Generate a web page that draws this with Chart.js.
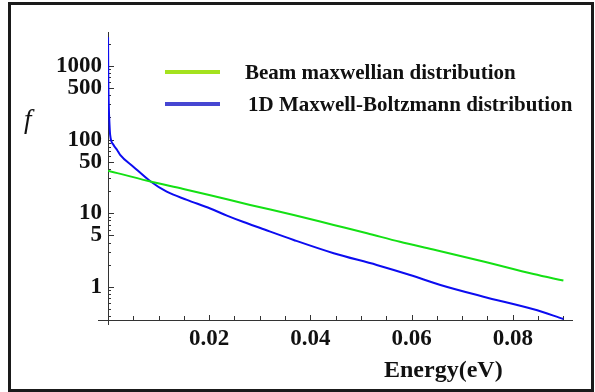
<!DOCTYPE html>
<html>
<head>
<meta charset="utf-8">
<script src="https://cdn.jsdelivr.net/npm/chart.js@4.4.1/dist/chart.umd.min.js"></script>
<style>
  html, body { margin: 0; padding: 0; background: #fff; }
  #wrap { position: relative; width: 595px; height: 392px; }
  #wrap canvas { position: absolute; left: 0; top: 0; }
  #frame {
    position: absolute; left: 8px; top: 2px; width: 580px; height: 384px;
    border: 3px solid #1a1a1a; pointer-events: none;
  }
</style>
</head>
<body>
<div id="wrap">
  <canvas id="distChart" width="595" height="392"></canvas>
  <div id="frame"></div>
</div>
<script>
// Energy (eV) and distribution values
const energyBeam = [0, 0.0080, 0.0149, 0.0200, 0.0281, 0.0367, 0.0446, 0.0512, 0.0577, 0.0643, 0.0742, 0.0841, 0.0900];
const fBeam = [37.9, 27.4, 21.4, 17.7, 12.97, 9.48, 6.94, 5.35, 4.1, 3.22, 2.22, 1.5, 1.22];

const energyMB = [0.00001, 0.00005, 0.00015, 0.0003, 0.00043, 0.0011, 0.0018, 0.0024, 0.0050, 0.0083, 0.0116, 0.0156, 0.0202, 0.0235, 0.0268, 0.0301, 0.0367, 0.0446, 0.0531, 0.0597, 0.0657, 0.0742, 0.0841, 0.0900];
const fMB = [2440, 800, 300, 158, 115, 84.5, 72.3, 61.8, 42.9, 27.4, 19.6, 15.2, 11.6, 9.3, 7.6, 6.3, 4.34, 2.87, 1.99, 1.455, 1.064, 0.738, 0.498, 0.368];

const yTickValues = [1, 5, 10, 50, 100, 500, 1000];
const xTickValues = [0.02, 0.04, 0.06, 0.08];

const legendItems = [
    { label: 'Beam maxwellian distribution', color: '#a4e21e' },
    { label: '1D Maxwell-Boltzmann distribution', color: '#4646d2' }
];

const toPoints = (xs, ys) => xs.map((x, i) => ({ x: x, y: ys[i] }));

// axes drawn by hand under the curves: ticks point inward,
// x axis runs a little past the origin
const axesPlugin = {
    id: 'axesPlugin',
    beforeDatasetsDraw(chart) {
        const ctx = chart.ctx;
        const area = chart.chartArea;
        const xs = chart.scales.x;
        const ys = chart.scales.y;
        const x0 = xs.getPixelForValue(0);

        ctx.save();
        ctx.strokeStyle = '#333';
        ctx.lineWidth = 1;
        ctx.beginPath();
        ctx.moveTo(x0 + 0.5, area.top);
        ctx.lineTo(x0 + 0.5, area.bottom + 5);
        ctx.moveTo(x0 - 10, area.bottom + 0.5);
        ctx.lineTo(area.right, area.bottom + 0.5);

        // y ticks: labelled ones long, the rest short
        for (let d = 0.1; d <= 1000; d *= 10) {
            for (let m = 1; m <= 9; m++) {
                const v = m * d;
                if (v < ys.min || v > ys.max) continue;
                const py = Math.round(ys.getPixelForValue(v)) + 0.5;
                const len = yTickValues.some(t => Math.abs(t - v) < 1e-9) ? 6 : 3;
                ctx.moveTo(x0, py);
                ctx.lineTo(x0 + len, py);
            }
        }

        // x ticks every 0.005
        for (let i = 1; i * 0.005 <= xs.max; i++) {
            const px = Math.round(xs.getPixelForValue(i * 0.005)) + 0.5;
            const len = i % 4 === 0 ? 5 : 4;
            ctx.moveTo(px, area.bottom);
            ctx.lineTo(px, area.bottom - len);
        }
        ctx.stroke();
        ctx.restore();
    },
    afterDraw(chart) {
        const ctx = chart.ctx;
        ctx.save();
        ctx.fillStyle = '#111';
        ctx.textBaseline = 'alphabetic';
        ctx.textAlign = 'left';
        ctx.font = 'bold 24px "Liberation Serif"';
        ctx.fillText('Energy(eV)', 384, 377);
        ctx.font = 'italic 27px "Liberation Serif"';
        ctx.fillText('f', 24, 128);

        // legend
        ctx.font = 'bold 21px "Liberation Serif"';
        const rows = [{ y: 72, tx: 245 }, { y: 104, tx: 248 }];
        legendItems.forEach((item, i) => {
            ctx.strokeStyle = item.color;
            ctx.lineWidth = 4;
            ctx.beginPath();
            ctx.moveTo(165, rows[i].y);
            ctx.lineTo(220, rows[i].y);
            ctx.stroke();
            ctx.fillText(item.label, rows[i].tx, rows[i].y + 7);
        });
        ctx.restore();
    }
};

new Chart(document.getElementById('distChart'), {
    type: 'line',
    data: {
        datasets: [
            {
                label: legendItems[0].label,
                data: toPoints(energyBeam, fBeam),
                borderColor: '#14e014',
                borderWidth: 2,
                pointRadius: 0,
                cubicInterpolationMode: 'monotone'
            },
            {
                label: legendItems[1].label,
                data: toPoints(energyMB, fMB),
                borderColor: '#0c0cf0',
                borderWidth: 2,
                pointRadius: 0,
                cubicInterpolationMode: 'monotone'
            }
        ]
    },
    options: {
        responsive: false,
        animation: false,
        devicePixelRatio: 1,
        layout: { padding: { left: 0, right: 22, top: 32, bottom: 0 } },
        plugins: {
            legend: { display: false },
            tooltip: { enabled: false }
        },
        scales: {
            x: {
                type: 'linear',
                min: 0,
                max: 0.0919,
                grid: { display: false, drawTicks: false },
                border: { display: false },
                afterBuildTicks: (scale) => { scale.ticks = xTickValues.map(v => ({ value: v })); },
                afterFit: (scale) => { scale.height = 72; },
                ticks: {
                    padding: 5,
                    maxRotation: 0,
                    color: '#111',
                    font: { family: 'Liberation Serif', size: 23, weight: 'bold' },
                    callback: (v) => Number(v).toFixed(2)
                }
            },
            y: {
                type: 'logarithmic',
                min: 0.356,
                max: 2884,
                grid: { display: false, drawTicks: false },
                border: { display: false },
                afterBuildTicks: (scale) => { scale.ticks = yTickValues.map(v => ({ value: v })); },
                afterFit: (scale) => { scale.width = 108; },
                ticks: {
                    padding: 6,
                    color: '#111',
                    font: { family: 'Liberation Serif', size: 23, weight: 'bold', lineHeight: 1 },
                    callback: (v) => String(v)
                }
            }
        }
    },
    plugins: [axesPlugin]
});
</script>
</body>
</html>
